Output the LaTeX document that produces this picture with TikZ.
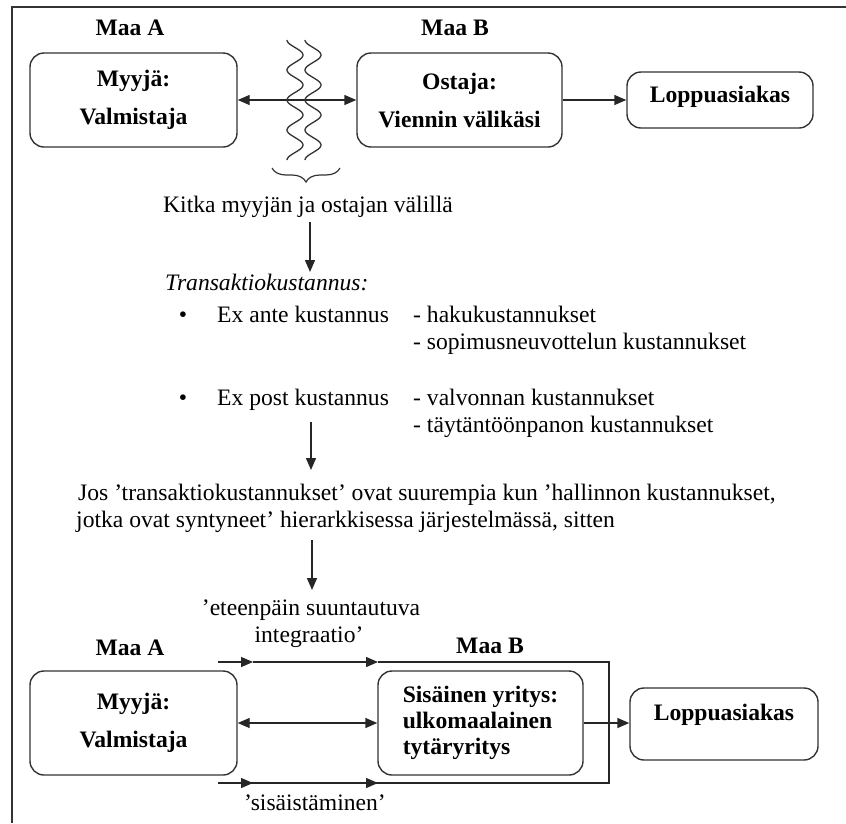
\documentclass[tikz,border=0pt]{standalone}
\usepackage{fontspec}
\setmainfont{Liberation Serif}
\usetikzlibrary{arrows.meta,decorations.pathreplacing}
\newcommand\fsz{\fontsize{23.6}{27}\selectfont}
\newcommand\fsb{\fontsize{23.6}{38}\selectfont\bfseries}
\begin{document}
\begin{tikzpicture}[x=1pt,y=-1pt,
  every node/.style={font=\fsz, inner sep=0pt, text=black},
  box/.style={draw=black!80, line width=1.4pt, rounded corners=14pt, align=center, font=\fsb},
  lbl/.style={anchor=base, font=\fsz\bfseries},
  txt/.style={anchor=base west},
  ctr/.style={anchor=base},
  arr/.style={-{Triangle[length=12pt,width=10pt]}, line width=1.4pt, draw=black!85},
  darr/.style={{Triangle[length=12pt,width=10pt]}-{Triangle[length=12pt,width=10pt]}, line width=1.4pt, draw=black!85},
  ln/.style={line width=1.4pt, draw=black!85},
  wave/.style={line width=1.3pt, draw=black!80},
]
\useasboundingbox (0,0) rectangle (846,823);
% frame (cropped)
\draw[line width=2pt, black!80] (846,7) -- (12,7) -- (12,823);

% ---------- top row ----------
\node[lbl] (maaA1) at (130,35) {Maa A};
\node[lbl] (maaB1) at (455,35) {Maa B};
\node[box, minimum width=207pt, minimum height=94pt] (sellerA) at (133.5,100) {Myyjä:\\Valmistaja};
\node[box, minimum width=205pt, minimum height=94pt] (buyerB) at (459.5,100) {Ostaja:\\Viennin välikäsi};
\node[box, font=\fsz\bfseries, minimum width=186pt, minimum height=56pt, text height=17pt, text depth=12pt] (loppu1) at (720,100) {Loppuasiakas};
\draw[darr] (sellerA.east) -- (buyerB.west);
\draw[arr] (buyerB.east) -- (loppu1.west);

% friction waves and brace
\draw[wave] plot[domain=0:120, samples=121, smooth] ({295-8*cos(12*\x)},{40+\x});
\draw[wave] plot[domain=0:120, samples=121, smooth] ({313-8*cos(12*\x)},{40+\x});
\draw[line width=1.2pt, black!80, decorate, decoration={brace, mirror, amplitude=14pt}] (272,168) -- (340,168);

% ---------- middle text ----------
\node[txt] (kitka) at (163,212) {Kitka myyjän ja ostajan välillä};
\coordinate (a1s) at (310,222);
\coordinate (a1e) at (310,272);
\draw[arr] (a1s) -- (a1e);
\node[txt, font=\fsz\itshape] (trans) at (165,290) {Transaktiokustannus:};
\node[ctr] (b1) at (183,322) {•};
\node[txt] (exante) at (217,322) {Ex ante kustannus};
\node[txt] (haku) at (413,322) {- hakukustannukset};
\node[txt] (sopimus) at (413,349) {- sopimusneuvottelun kustannukset};
\node[ctr] (b2) at (183,405) {•};
\node[txt] (expost) at (217,405) {Ex post kustannus};
\node[txt] (valvonta) at (413,405) {- valvonnan kustannukset};
\node[txt] (taytanto) at (413,432) {- täytäntöönpanon kustannukset};
\coordinate (a2s) at (311,422);
\coordinate (a2e) at (311,470);
\draw[arr] (a2s) -- (a2e);
\node[txt] (jos1) at (78,500) {Jos ’transaktiokustannukset’ ovat suurempia kun ’hallinnon kustannukset,};
\node[txt] (jos2) at (76,527) {jotka ovat syntyneet’ hierarkkisessa järjestelmässä, sitten};
\coordinate (a3s) at (312,540);
\coordinate (a3e) at (312,590);
\draw[arr] (a3s) -- (a3e);

% ---------- bottom row ----------
\node[ctr] (ete1) at (311,615) {’eteenpäin suuntautuva};
\node[ctr] (ete2) at (309,642) {integraatio’};
\node[lbl] (maaA2) at (130,655) {Maa A};
\node[lbl] (maaB2) at (490,653) {Maa B};
\node[box, minimum width=207pt, minimum height=104pt] (sellerA2) at (133.5,723) {Myyjä:\\Valmistaja};
\node[box, align=left, font=\fontsize{23.6}{26}\selectfont\bfseries, minimum width=205pt, minimum height=104pt] (sis) at (480.5,723) {Sisäinen yritys:\\ulkomaalainen\\tytäryritys};
\node[box, font=\fsz\bfseries, minimum width=188pt, minimum height=72pt, text height=17pt, text depth=25pt] (loppu2) at (724,724) {Loppuasiakas};

\coordinate (t0) at (218,662);
\coordinate (t1) at (253,662);
\coordinate (t2) at (378,662);
\coordinate (t3) at (609,662);
\coordinate (t4) at (609,783);
\coordinate (u2) at (378,783);
\coordinate (u1) at (253,783);
\coordinate (u0) at (218,783);
\draw[ln] (t2) -- (t3) -- (t4) -- (u0);
\draw[arr] (t0) -- (t1);
\draw[arr] (t1) -- (t2);
\draw[arr] (u0) -- (u1);
\draw[arr] (u1) -- (u2);
\draw[darr] (sellerA2.east) -- (sis.west);
\draw[arr] (sis.east) -- (sis.east -| loppu2.west);
\node[ctr] (sis2) at (315,810) {’sisäistäminen’};
\end{tikzpicture}
\end{document}
